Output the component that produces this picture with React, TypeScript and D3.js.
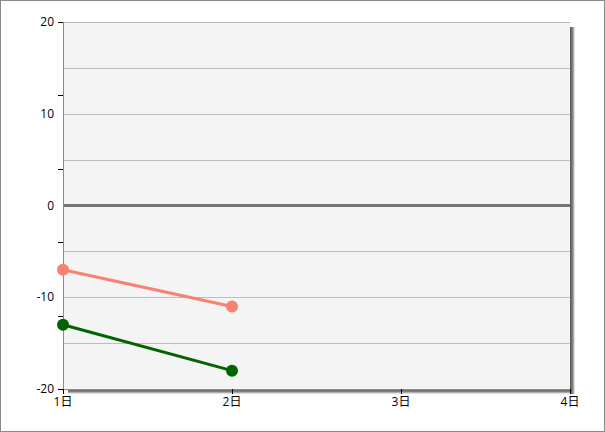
import React from "react";
import * as d3 from "d3";

const categories = ["1日", "2日", "3日", "4日"];
const seriesA = [-7, -11];
const seriesB = [-13, -18];
const yLabels = [-20, -10, 0, 10, 20];
const yTickMarks = [-20, -12, -4, 4, 12, 20];
const yGrid = [-15, -10, -5, 5, 10, 15];

const W = 605;
const H = 432;
const M = { left: 63, right: 570, top: 22, bottom: 389 };

export default function App() {
  const x = d3.scalePoint<string>().domain(categories).range([M.left, M.right]);
  const y = d3.scaleLinear().domain([-20, 20]).range([M.bottom, M.top]);
  const line = d3
    .line<number>()
    .x((_, i) => x(categories[i]) as number)
    .y((d) => y(d));
  const font = "'Segoe UI', 'Open Sans', 'Noto Sans CJK JP', sans-serif";
  const series = [
    { data: seriesA, color: "#fa8072" },
    { data: seriesB, color: "#006400" },
  ];
  return (
    <svg
      width={W}
      height={H}
      style={{ position: "absolute", left: 0, top: 0 }}
      fontFamily={font}
    >
      <defs>
        <linearGradient id="shR" x1="0" x2="1" y1="0" y2="0">
          <stop offset="0" stopColor="#555" />
          <stop offset="0.5" stopColor="#888" />
          <stop offset="1" stopColor="#ffffff" stopOpacity="0" />
        </linearGradient>
        <linearGradient id="shB" x1="0" x2="0" y1="0" y2="1">
          <stop offset="0" stopColor="#555" />
          <stop offset="0.5" stopColor="#888" />
          <stop offset="1" stopColor="#ffffff" stopOpacity="0" />
        </linearGradient>
      </defs>
      <rect x={0.5} y={0.5} width={W - 1} height={H - 1} fill="#fff" stroke="#8a8a8a" />
      {/* shadow */}
      <rect x={M.right} y={M.top + 5} width={6} height={M.bottom - M.top} fill="url(#shR)" />
      <rect x={M.left + 5} y={M.bottom} width={M.right - M.left - 4} height={6} fill="url(#shB)" />
      {/* plot */}
      <rect x={M.left} y={M.top} width={M.right - M.left} height={M.bottom - M.top} fill="#f4f4f4" />
      {yGrid.map((v) => (
        <line key={v} x1={M.left} x2={M.right} y1={Math.round(y(v)) + 0.5} y2={Math.round(y(v)) + 0.5} stroke="#bdbdbd" />
      ))}
      <line x1={M.left} x2={M.right} y1={M.top + 0.5} y2={M.top + 0.5} stroke="#b4b4b4" />
      <line x1={M.left} x2={M.right} y1={y(0)} y2={y(0)} stroke="#747474" strokeWidth={3} />
      <line x1={M.left + 0.5} x2={M.left + 0.5} y1={M.top} y2={M.bottom} stroke="#8c8c8c" />
      <line x1={M.left} x2={M.right} y1={M.bottom + 0.5} y2={M.bottom + 0.5} stroke="#8c8c8c" />
      {/* y tick marks */}
      {yTickMarks.map((v) => (
        <line key={v} x1={M.left - 5} x2={M.left} y1={Math.round(y(v)) + 0.5} y2={Math.round(y(v)) + 0.5} stroke="#000" />
      ))}
      {yLabels.map((v) => (
        <text key={v} x={M.left - 9} y={y(v)} dy="0.35em" textAnchor="end" fontSize={12} fill="#000">
          {v}
        </text>
      ))}
      {/* x ticks */}
      {categories.map((c) => (
        <g key={c}>
          <line x1={(x(c) as number) + 0.5} x2={(x(c) as number) + 0.5} y1={M.bottom} y2={M.bottom + 5} stroke="#000" />
          <text x={x(c)} y={M.bottom + 17} textAnchor="middle" fontSize={12} fill="#000">
            {c}
          </text>
        </g>
      ))}
      {series.map((s, si) => (
        <g key={si}>
          <path d={line(s.data) || ""} fill="none" stroke={s.color} strokeWidth={3} />
          {s.data.map((v, i) => (
            <circle key={i} cx={x(categories[i])} cy={y(v)} r={6} fill={s.color} />
          ))}
        </g>
      ))}
    </svg>
  );
}
